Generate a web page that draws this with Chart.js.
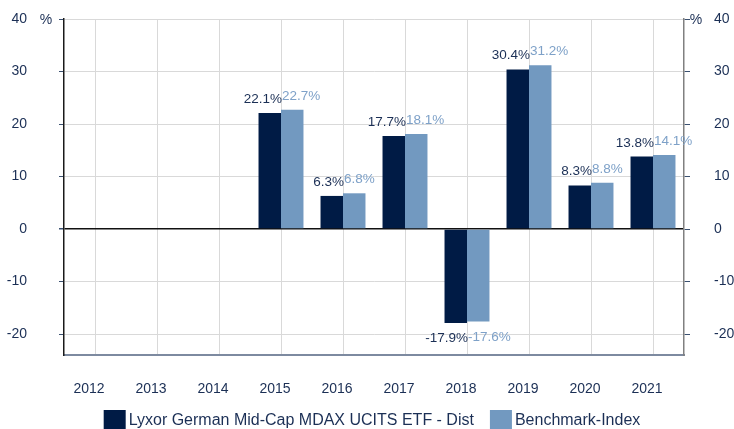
<!DOCTYPE html>
<html>
<head>
<meta charset="utf-8">
<script src="https://cdn.jsdelivr.net/npm/chart.js@4"></script>
<style>
  body { margin: 0; background: #fff; }
  canvas { display: block; }
</style>
</head>
<body>
<canvas id="chart" width="734" height="429"></canvas>
<script>
const years = ['2012', '2013', '2014', '2015', '2016', '2017', '2018', '2019', '2020', '2021'];
const fundReturns = [null, null, null, 22.1, 6.3, 17.7, -17.9, 30.4, 8.3, 13.8];
const benchReturns = [null, null, null, 22.7, 6.8, 18.1, -17.6, 31.2, 8.8, 14.1];
const fundName = 'Lyxor German Mid-Cap MDAX UCITS ETF - Dist';
const benchName = 'Benchmark-Index';

const FONT = '"Liberation Sans", Arial, sans-serif';
const TEXT = '#1b2f55';
const DARK = '#001b45';
const LIGHT = '#7299c0';
const LIGHT_TEXT = '#7ea1c8';
const GRID = '#d9d9d9';

// value labels above / below the bars
const valueLabels = {
  id: 'valueLabels',
  afterDatasetsDraw(chart) {
    const { ctx } = chart;
    const xScale = chart.scales.x;
    ctx.save();
    ctx.font = '13.5px ' + FONT;
    chart.data.datasets.forEach((ds, di) => {
      const meta = chart.getDatasetMeta(di);
      meta.data.forEach((bar, i) => {
        const v = ds.data[i];
        if (v === null) return;
        const cx = xScale.getPixelForValue(i) + 1;
        ctx.fillStyle = di === 0 ? TEXT : LIGHT_TEXT;
        ctx.textAlign = di === 0 ? 'right' : 'left';
        if (v >= 0) {
          ctx.textBaseline = 'bottom';
          ctx.fillText(v.toFixed(1) + '%', cx, bar.y - 7);
        } else {
          ctx.textBaseline = 'top';
          ctx.fillText(v.toFixed(1) + '%', cx, bar.y + 9);
        }
      });
    });
    ctx.restore();
  }
};

// "%" unit marks and the legend at the bottom
const extras = {
  id: 'extras',
  afterDraw(chart) {
    const { ctx } = chart;
    ctx.save();
    ctx.font = '14px ' + FONT;
    ctx.fillStyle = TEXT;
    ctx.textBaseline = 'middle';
    ctx.textAlign = 'center';
    ctx.fillText('%', 46, 20);
    ctx.fillText('%', 696, 20);

    ctx.font = '16px ' + FONT;
    const items = chart.data.datasets.map(ds => ({ label: ds.label, color: ds.backgroundColor }));
    const box = 22, gap = 3, spacing = 16;
    let total = 0;
    items.forEach((it, i) => {
      it.w = ctx.measureText(it.label).width;
      total += box + gap + it.w + (i < items.length - 1 ? spacing : 0);
    });
    let x = 372 - total / 2;
    ctx.textAlign = 'left';
    items.forEach(it => {
      ctx.fillStyle = it.color;
      ctx.fillRect(x, 410, box, 20);
      ctx.fillStyle = TEXT;
      ctx.fillText(it.label, x + box + gap, 421);
      x += box + gap + it.w + spacing;
    });
    ctx.restore();
  }
};

const keepTens = scale => {
  scale.ticks = scale.ticks.filter(t => t.value % 10 === 0);
};

// fixed widths, and no extra room above/below for the tick labels
const fitY = w => s => {
  s.width = w;
  s.paddingTop = 0;
  s.paddingBottom = 0;
};

new Chart(document.getElementById('chart'), {
  type: 'bar',
  data: {
    labels: years,
    datasets: [
      { label: fundName, data: fundReturns, backgroundColor: DARK, borderWidth: 0,
        categoryPercentage: 0.725, barPercentage: 1 },
      { label: benchName, data: benchReturns, backgroundColor: LIGHT, borderWidth: 0,
        categoryPercentage: 0.725, barPercentage: 1 }
    ]
  },
  options: {
    responsive: false,
    animation: false,
    devicePixelRatio: 1,
    layout: { padding: { top: 19, bottom: 0, left: 0, right: 0 } },
    plugins: {
      legend: { display: false },
      tooltip: { enabled: false }
    },
    scales: {
      x: {
        offset: true,
        grid: { offset: false, color: GRID, drawTicks: false },
        border: { color: '#7d8aa0', width: 2 },
        ticks: { color: TEXT, font: { family: FONT, size: 14 }, padding: 26, labelOffset: -6,
          maxRotation: 0 },
        afterFit: s => { s.height = 74; s.paddingLeft = 0; s.paddingRight = 0; }
      },
      y: {
        position: 'left',
        min: -24,
        max: 40,
        ticks: { stepSize: 10, color: TEXT, font: { family: FONT, size: 14 }, padding: 32 },
        afterBuildTicks: keepTens,
        grid: {
          color: c => (c.tick && c.tick.value === 0 ? '#111' : GRID),
          lineWidth: c => (c.tick && c.tick.value === 0 ? 1.5 : 1),
          tickLength: 5,
          tickColor: '#3a5070'
        },
        border: { color: '#1a1a1a', width: 1.5 },
        afterFit: fitY(64)
      },
      y2: {
        position: 'right',
        min: -24,
        max: 40,
        ticks: { stepSize: 10, color: TEXT, font: { family: FONT, size: 14 }, padding: 24 },
        afterBuildTicks: keepTens,
        grid: { drawOnChartArea: false, tickLength: 6, tickColor: '#3a5070' },
        border: { color: '#808080', width: 1.5 },
        afterFit: fitY(50)
      }
    }
  },
  plugins: [valueLabels, extras]
});
</script>
</body>
</html>
